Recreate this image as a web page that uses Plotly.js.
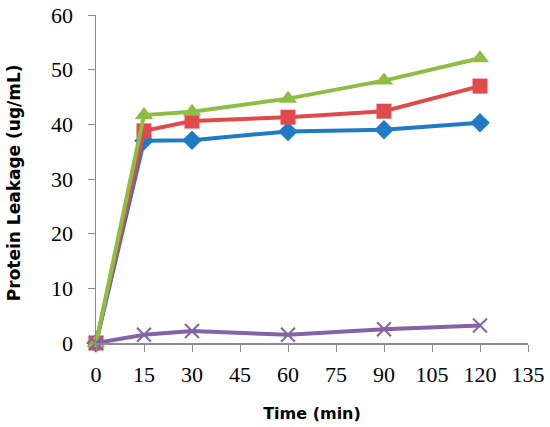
<!DOCTYPE html>
<html>
<head>
<meta charset="utf-8">
<script src="https://cdn.plot.ly/plotly-3.0.1.min.js"></script>
<style>
  html, body { margin: 0; padding: 0; background: #fff; }
  #chart { width: 550px; height: 427px; }
</style>
</head>
<body>
<div id="chart"></div>
<script>
var times = [0, 15, 30, 60, 90, 120];
var blueVals = [0, 37.0, 37.1, 38.7, 39.0, 40.3];
var redVals = [0, 38.8, 40.6, 41.3, 42.4, 47.0];
var greenVals = [0, 41.7, 42.3, 44.7, 48.0, 52.1];
var purpleVals = [0, 1.5, 2.2, 1.5, 2.5, 3.2];
var xTicks = [0, 15, 30, 45, 60, 75, 90, 105, 120, 135];

function series(y, color, symbol, size) {
  return {
    x: times,
    y: y,
    type: 'scatter',
    mode: 'lines+markers',
    line: { color: color, width: 4 },
    marker: { color: color, symbol: symbol, size: size,
      line: { color: color, width: symbol === 'x-thin' ? 2 : 0 } },
    cliponaxis: false
  };
}

var data = [
  series(blueVals, '#1f7bc3', 'diamond', 15),
  series(redVals, '#e04a4a', 'square', 15),
  series(greenVals, '#8cbe45', 'triangle-up', 16),
  series(purpleVals, '#8562a8', 'x-thin', 14)
];

var layout = {
  width: 550,
  height: 427,
  margin: { l: 96, r: 22, t: 15, b: 84 },
  showlegend: false,
  paper_bgcolor: '#fff',
  plot_bgcolor: '#fff',
  font: { family: 'Liberation Serif', color: '#000' },
  xaxis: {
    range: [0, 135],
    tickmode: 'array',
    tickvals: xTicks,
    ticktext: xTicks.map(String),
    showgrid: false,
    zeroline: false,
    showline: true,
    linecolor: '#8c8c8c',
    linewidth: 1.5,
    ticks: 'outside',
    ticklen: 7,
    tickcolor: '#8c8c8c',
    ticklabelstandoff: 4,
    tickfont: { family: 'Liberation Serif', size: 22, color: '#000' },
    title: { text: '<b>Time (min)</b>', font: { family: 'DejaVu Sans', size: 16, color: '#000' }, standoff: 22 }
  },
  yaxis: {
    range: [0, 60],
    dtick: 10,
    showgrid: false,
    zeroline: false,
    showline: true,
    linecolor: '#8c8c8c',
    linewidth: 1.5,
    ticks: 'outside',
    ticklen: 7,
    tickcolor: '#8c8c8c',
    ticklabelstandoff: 10,
    tickfont: { family: 'Liberation Serif', size: 22, color: '#000' }
  },
  annotations: [{
    text: '<b>Protein Leakage (ug/mL)</b>',
    xref: 'paper', yref: 'paper',
    x: -0.19, y: 0.49,
    xanchor: 'center', yanchor: 'middle',
    textangle: -90,
    showarrow: false,
    font: { family: 'DejaVu Sans', size: 17, color: '#000' }
  }]
};

var config = { displayModeBar: false, staticPlot: true };
Plotly.newPlot('chart', data, layout, config);
</script>
</body>
</html>
